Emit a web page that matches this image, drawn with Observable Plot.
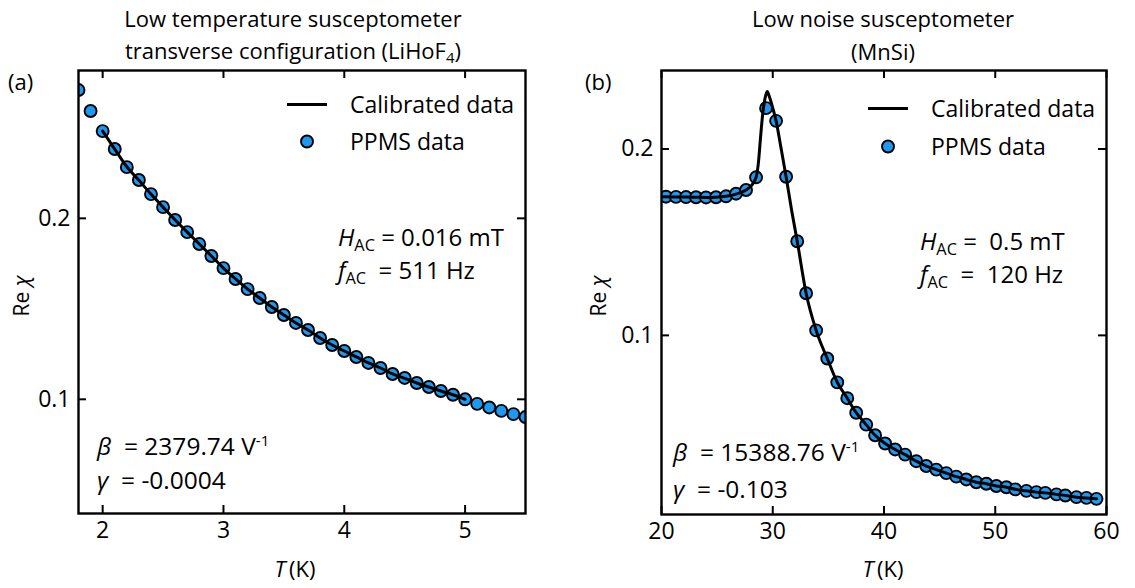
<!DOCTYPE html>
<html>
<head>
<meta charset="utf-8">
<script src="https://cdn.jsdelivr.net/npm/d3@7"></script>
<script src="https://cdn.jsdelivr.net/npm/@observablehq/plot@0.6"></script>
<style>
  body { margin: 0; background: #fff; }
  #fig { position: relative; width: 1135px; height: 588px; font-family: "Open Sans", sans-serif; color: #000; overflow: hidden; }
  .panel { position: absolute; top: 0; }
  .t { position: absolute; white-space: nowrap; line-height: 1; }
  .t sub { font-size: 0.68em; vertical-align: -0.3em; line-height: 0; }
  .t sup { font-size: 0.62em; vertical-align: 0.55em; line-height: 0; }
  .legend-row { position: absolute; display: flex; align-items: center; white-space: nowrap; font-size: 23px; line-height: 1; }
  .legend-row svg { margin-right: 22px; }
</style>
</head>
<body>
<div id="fig"></div>
<script>
// (a) LiHoF4, transverse configuration: PPMS reference points
const ppmsT_a = [1.8, 1.9, 2.0, 2.1, 2.2, 2.3, 2.4, 2.5, 2.6, 2.7, 2.8, 2.9, 3.0, 3.1, 3.2, 3.3, 3.4, 3.5, 3.6, 3.7,
  3.8, 3.9, 4.0, 4.1, 4.2, 4.3, 4.4, 4.5, 4.6, 4.7, 4.8, 4.9, 5.0, 5.1, 5.2, 5.3, 5.4, 5.5];
const ppmsChi_a = [0.2709, 0.2593, 0.2482, 0.2383, 0.2283, 0.2212, 0.2134, 0.2062, 0.1991, 0.1924, 0.1858, 0.1792,
  0.1725, 0.1665, 0.1609, 0.1560, 0.1510, 0.1466, 0.1422, 0.1383, 0.1339, 0.1300, 0.1267, 0.1234, 0.1201, 0.1173,
  0.1140, 0.1118, 0.1090, 0.1068, 0.1046, 0.1025, 0.1000, 0.0975, 0.0955, 0.0936, 0.0918, 0.0902];
// (a) calibrated susceptometer curve
const calT_a = [2.0, 2.1, 2.2, 2.3, 2.4, 2.5, 2.6, 2.7, 2.8, 2.9, 3.0, 3.1, 3.2, 3.3, 3.4, 3.5, 3.6, 3.7, 3.8, 3.9,
  4.0, 4.1, 4.2, 4.3, 4.4, 4.5, 4.6, 4.7, 4.8, 4.9, 5.0];
const calChi_a = [0.2482, 0.2383, 0.2285, 0.2210, 0.2134, 0.2062, 0.1991, 0.1924, 0.1858, 0.1792, 0.1725, 0.1665,
  0.1609, 0.1560, 0.1510, 0.1466, 0.1422, 0.1383, 0.1339, 0.1300, 0.1267, 0.1234, 0.1201, 0.1173, 0.1140, 0.1116,
  0.1090, 0.1068, 0.1046, 0.1025, 0.1000];

// (b) MnSi: PPMS reference points
const ppmsT_b = [20.4, 21.3, 22.2, 23.1, 24.0, 24.9, 25.8, 26.7, 27.6, 28.5, 29.4, 30.3, 31.2, 32.2, 33.0, 33.9,
  34.9, 35.8, 36.7, 37.5, 38.4, 39.2, 40.1, 41.0, 41.9, 42.9, 43.8, 44.7, 45.6, 46.5, 47.4, 48.3, 49.2, 50.1, 51.0,
  51.8, 52.8, 53.7, 54.5, 55.5, 56.3, 57.3, 58.2, 59.1];
const ppmsChi_b = [0.1744, 0.1743, 0.1742, 0.1741, 0.1740, 0.1741, 0.1746, 0.1760, 0.1780, 0.1848, 0.2219, 0.2151,
  0.1851, 0.1505, 0.1226, 0.1027, 0.0876, 0.0748, 0.0663, 0.0585, 0.0521, 0.0464, 0.0420, 0.0388, 0.0360, 0.0325,
  0.0299, 0.0280, 0.0261, 0.0242, 0.0227, 0.0212, 0.0204, 0.0192, 0.0185, 0.0174, 0.0166, 0.0159, 0.0155, 0.0147,
  0.0141, 0.0132, 0.0128, 0.0123];
// (b) calibrated susceptometer curve (denser around the transition peak)
const calT_b = [20.0, 21.3, 22.2, 23.1, 24.0, 24.9, 25.8, 26.7, 27.6, 28.1, 28.5, 28.7, 28.9, 29.1, 29.3, 29.5,
  29.7, 30.0, 30.3, 30.7, 31.2, 31.7, 32.2, 33.0, 33.9, 34.9, 35.8, 36.7, 37.5, 38.4, 39.2, 40.1, 41.0, 41.9, 42.9,
  43.8, 44.7, 45.6, 46.5, 47.4, 48.3, 49.2, 50.1, 51.0, 51.8, 52.8, 53.7, 54.5, 55.5, 56.3, 57.3, 58.2, 59.1];
const calChi_b = [0.1744, 0.1743, 0.1742, 0.1741, 0.1740, 0.1741, 0.1746, 0.1758, 0.1780, 0.1805, 0.1848, 0.1920,
  0.2060, 0.2190, 0.2270, 0.2308, 0.2280, 0.2220, 0.2151, 0.2020, 0.1851, 0.1670, 0.1505, 0.1226, 0.1027, 0.0876,
  0.0748, 0.0663, 0.0585, 0.0521, 0.0464, 0.0420, 0.0388, 0.0360, 0.0325, 0.0299, 0.0280, 0.0261, 0.0242, 0.0227,
  0.0212, 0.0204, 0.0192, 0.0185, 0.0174, 0.0166, 0.0159, 0.0155, 0.0147, 0.0141, 0.0132, 0.0128, 0.0123];

// tick values
const xTicks_a = [2, 3, 4, 5];
const yTicks_a = [0.1, 0.2];
const xTicks_b = [20, 30, 40, 50, 60];
const yTicks_b = [0.1, 0.2];

const DOT_FILL = "#1E99F2";
const TICK = 8;

function zip(xs, ys) { return xs.map((x, i) => ({T: x, chi: ys[i]})); }

function panel({left, width, height, margin, xDomain, yDomain, xTicks, yTicks, points, curve}) {
  const iw = width - margin.left - margin.right;
  const ih = height - margin.top - margin.bottom;
  const chart = Plot.plot({
    width, height,
    marginTop: margin.top, marginRight: margin.right, marginBottom: margin.bottom, marginLeft: margin.left,
    style: {fontFamily: "'Open Sans', sans-serif", fontSize: "23px", color: "#000", background: "transparent", overflow: "visible"},
    x: {domain: xDomain},
    y: {domain: yDomain},
    marks: [
      Plot.dot(points, {x: "T", y: "chi", r: 6, fill: DOT_FILL, stroke: "#000", strokeWidth: 1.9, clip: true}),
      Plot.line(curve, {x: "T", y: "chi", stroke: "#000", strokeWidth: 3, curve: "monotone-x", clip: true}),
      // inward ticks on all four sides
      Plot.tickX(xTicks, {x: d => d, insetTop: ih - TICK, stroke: "#000", strokeWidth: 2}),
      Plot.tickX(xTicks, {x: d => d, insetBottom: ih - TICK, stroke: "#000", strokeWidth: 2}),
      Plot.tickY(yTicks, {y: d => d, insetRight: iw - TICK, stroke: "#000", strokeWidth: 2}),
      Plot.tickY(yTicks, {y: d => d, insetLeft: iw - TICK, stroke: "#000", strokeWidth: 2}),
      Plot.axisX({ticks: xTicks, tickSize: 0, tickPadding: 8, label: null, tickFormat: d => String(d)}),
      Plot.axisY({ticks: yTicks, tickSize: 0, tickPadding: 8, label: null, tickFormat: d => d.toFixed(1)}),
      Plot.frame({stroke: "#000", strokeWidth: 2.4})
    ]
  });
  chart.classList.add("panel");
  chart.style.left = left + "px";
  return chart;
}

const fig = document.getElementById("fig");

fig.appendChild(panel({
  left: 0, width: 560, height: 588,
  margin: {top: 70, right: 35, bottom: 75, left: 78},
  xDomain: [1.8, 5.5], yDomain: [0.0369, 0.2817],
  xTicks: xTicks_a, yTicks: yTicks_a,
  points: zip(ppmsT_a, ppmsChi_a), curve: zip(calT_a, calChi_a)
}));

fig.appendChild(panel({
  left: 560, width: 575, height: 588,
  margin: {top: 70, right: 29, bottom: 74, left: 101},
  xDomain: [20, 60], yDomain: [0.0039, 0.2421],
  xTicks: xTicks_b, yTicks: yTicks_b,
  points: zip(ppmsT_b, ppmsChi_b), curve: zip(calT_b, calChi_b)
}));

// text helpers
function text(html, x, y, {size = 22, anchor = "start"} = {}) {
  const d = document.createElement("div");
  d.className = "t";
  d.innerHTML = html;
  d.style.fontSize = size + "px";
  d.style.left = x + "px";
  d.style.top = y + "px";
  const tx = anchor === "middle" ? "-50%" : anchor === "end" ? "-100%" : "0";
  d.style.transform = `translate(${tx}, -50%)`;
  fig.appendChild(d);
  return d;
}

function rotatedLabel(html, x, y, size) {
  const d = document.createElement("div");
  d.className = "t";
  d.innerHTML = html;
  d.style.fontSize = size + "px";
  d.style.left = x + "px";
  d.style.top = y + "px";
  d.style.transform = "translate(-50%, -50%) rotate(-90deg)";
  fig.appendChild(d);
}

function legend(x, y, kind, label) {
  const row = document.createElement("div");
  row.className = "legend-row";
  row.style.left = x + "px";
  row.style.top = y + "px";
  row.style.transform = "translateY(-50%)";
  const sw = kind === "line"
    ? `<svg width="42" height="16"><line x1="1" y1="8" x2="41" y2="8" stroke="#000" stroke-width="3"/></svg>`
    : `<svg width="42" height="16"><circle cx="21" cy="8" r="6" fill="${DOT_FILL}" stroke="#000" stroke-width="1.9"/></svg>`;
  row.innerHTML = sw + `<span>${label}</span>`;
  fig.appendChild(row);
}

// titles
text("Low temperature susceptometer", 293, 18, {size: 22, anchor: "middle"});
text("transverse configuration (LiHoF<sub>4</sub>)", 293, 50, {size: 22, anchor: "middle"});
text("Low noise susceptometer", 883, 18, {size: 22, anchor: "middle"});
text("(MnSi)", 883, 51, {size: 22, anchor: "middle"});

// panel labels
text("(a)", 8, 81, {size: 22});
text("(b)", 585, 81, {size: 22});

// axis labels
rotatedLabel("Re <i>χ</i>", 21, 296, 21);
rotatedLabel("Re <i>χ</i>", 598, 296, 21);
text("<i>T</i>&#8201;(K)", 295, 568, {size: 22, anchor: "middle"});
text("<i>T</i>&#8201;(K)", 883, 568, {size: 22, anchor: "middle"});

// legends
legend(286, 104, "line", "Calibrated data");
legend(286, 141, "dot", "PPMS data");
legend(867, 108, "line", "Calibrated data");
legend(867, 146, "dot", "PPMS data");

// measurement annotations
text("<i>H</i><sub>AC</sub> = 0.016 mT", 338, 237, {size: 24});
text("<i>f</i><sub>AC</sub>&nbsp; = 511 Hz", 338, 270, {size: 24});
text("<i>β</i> &nbsp;= 2379.74 V<sup>-1</sup>", 97, 446, {size: 24.5});
text("<i>γ</i> &nbsp;= -0.0004", 97, 480, {size: 24.5});

text("<i>H</i><sub>AC</sub> = &nbsp;0.5 mT", 920, 241, {size: 24});
text("<i>f</i><sub>AC</sub>&nbsp; = &nbsp;120 Hz", 920, 274, {size: 24});
text("<i>β</i> &nbsp;= 15388.76 V<sup>-1</sup>", 673, 452, {size: 24.5});
text("<i>γ</i> &nbsp;= -0.103", 673, 489, {size: 24.5});
</script>
</body>
</html>
